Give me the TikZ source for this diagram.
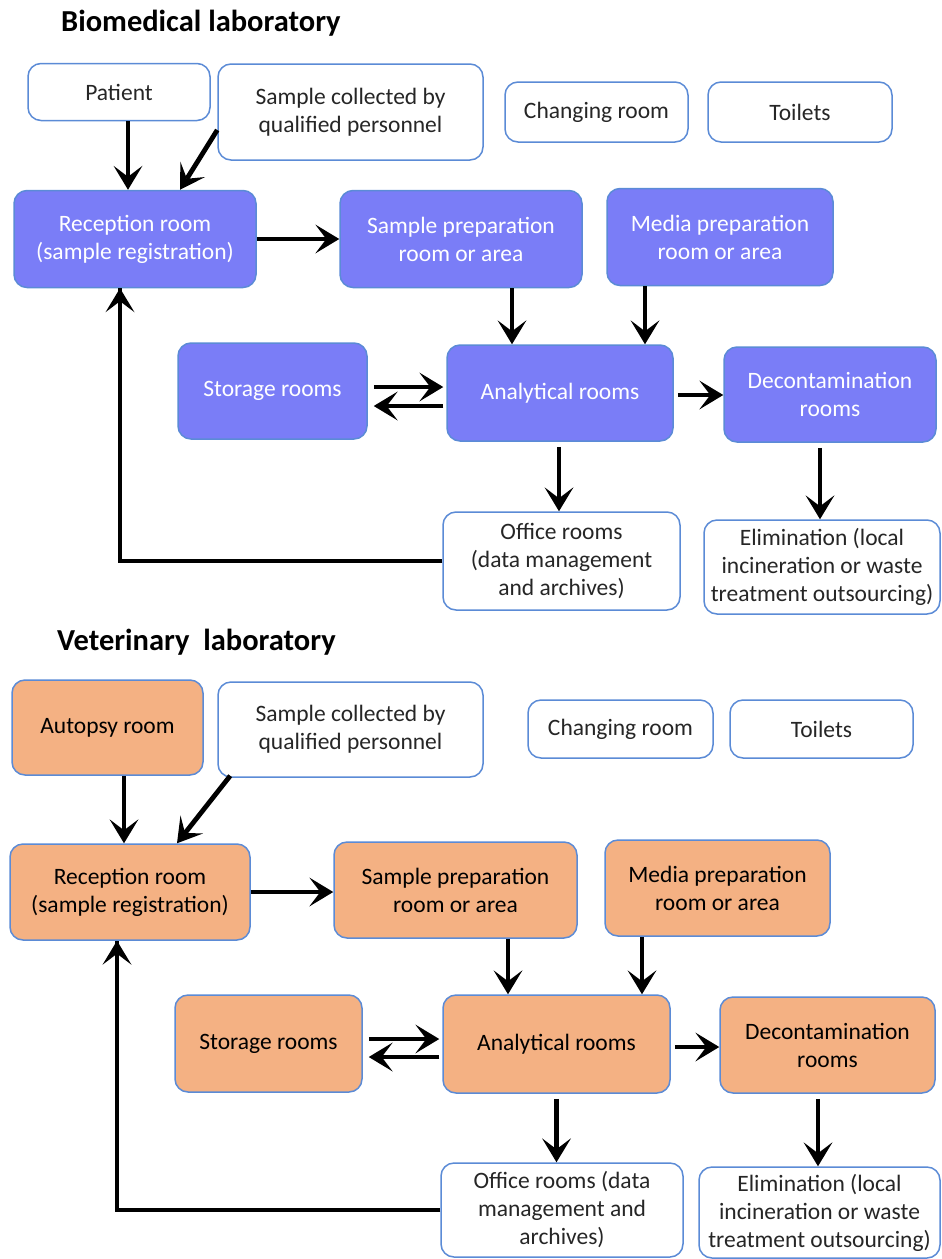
\documentclass[tikz,border=0pt]{standalone}
\usepackage{fontspec}
\setmainfont{Carlito}
\usepackage{tikz}
\usetikzlibrary{arrows.meta}
\definecolor{roomblue}{HTML}{7A7DF7}
\definecolor{roomorange}{HTML}{F4B183}
\definecolor{roomline}{HTML}{5B8BD6}
\definecolor{roomtext}{HTML}{262626}
\tikzset{
  % --- rooms ---
  room/.style={draw=roomline, line width=1.5pt, rounded corners=13pt, align=center,
               inner sep=2pt, font=\fontsize{23.5}{28}\selectfont, text=roomtext},
  roomwhite/.style={room, fill=white},
  roomlab/.style={room, fill=roomblue, text=white},
  roomvet/.style={room, fill=roomorange, text=black},
  paneltitle/.style={font=\fontsize{30.5}{34}\selectfont\bfseries, anchor=west,
                     inner sep=0pt},
  % --- flows between rooms ---
  flow/.style={line width=4.8pt,
               -{Stealth[length=24pt, width=29pt, inset=11pt, line width=0pt]}},
  flowline/.style={line width=4.8pt},
}
\begin{document}
\begin{tikzpicture}[x=1pt,y=-1pt]
  \useasboundingbox (0,0) rectangle (942,1259);
  % biomedical laboratory
  \node[paneltitle] (titlebio) at (61,23) {Biomedical laboratory};
  \node[roomwhite, minimum width=182pt, minimum height=57pt] (patient) at (119,92) {Patient};
  \node[roomwhite, minimum width=265pt, minimum height=96pt] (collect1) at (350.5,112) {Sample collected by\\qualified personnel};
  \node[roomwhite, minimum width=183pt, minimum height=60pt] (change1) at (596.5,112) {Changing room};
  \node[roomwhite, minimum width=184pt, minimum height=60pt] (toilet1) at (800,112) {Toilets};
  \node[roomlab, minimum width=242pt, minimum height=97pt] (recep1) at (135,239) {Reception room\\(sample registration)};
  \node[roomlab, minimum width=242pt, minimum height=97pt] (prep1) at (461,239) {Sample preparation\\room or area};
  \node[roomlab, minimum width=226pt, minimum height=97pt] (media1) at (720,237) {Media preparation\\room or area};
  \node[roomlab, minimum width=189pt, minimum height=96pt] (store1) at (272.5,391) {Storage rooms};
  \node[roomlab, minimum width=226pt, minimum height=96pt] (analyt1) at (560,393) {Analytical rooms};
  \node[roomlab, minimum width=212pt, minimum height=95pt] (decon1) at (830,394.5) {Decontamination\\rooms};
  \node[roomwhite, minimum width=237pt, minimum height=98pt] (office1) at (561.5,561) {Office rooms\\(data management\\and archives)};
  \node[roomwhite, minimum width=236pt, minimum height=94pt] (elim1) at (822,567) {Elimination (local\\incineration or waste\\treatment outsourcing)};

  \draw[flow] ([xshift=9pt]patient.south) -- ([xshift=-7pt]recep1.north);
  \draw[flow] ([yshift=-18pt]collect1.west) -- ([xshift=45pt]recep1.north);
  \draw[flow] (recep1.east) -- (prep1.west);
  \draw[flow] ([xshift=51pt]prep1.south) -- ([xshift=-48pt]analyt1.north);
  \draw[flow] ([xshift=-75pt]media1.south) -- ([xshift=85pt]analyt1.north);
  \draw[flow, shorten <=6pt, shorten >=3pt] ([yshift=4pt]store1.east) -- ([yshift=6pt]analyt1.west);
  \draw[flow, shorten <=3pt, shorten >=6pt] ([yshift=-13pt]analyt1.west) -- ([yshift=-15pt]store1.east);
  \draw[flow, shorten <=4pt] ([yshift=-2pt]analyt1.east) -- ([yshift=-0.5pt]decon1.west);
  \draw[flow, shorten <=5pt] ([xshift=-1pt]analyt1.south) -- ([xshift=-2.5pt]office1.north);
  \draw[flow, shorten <=5pt] ([xshift=-10pt]decon1.south) -- ([xshift=-2pt]elim1.north);
  \draw[flowline] (office1.west) -| ([xshift=-15pt]recep1.south);
  \draw[flow] ([xshift=-15pt,yshift=-40pt]recep1.south) -- ([xshift=-15pt]recep1.south);

  % veterinary laboratory
  \node[paneltitle] (titlevet) at (57,642) {Veterinary\ \ laboratory};
  \node[roomvet, minimum width=191pt, minimum height=95pt] (autopsy) at (107.5,727.5) {Autopsy room};
  \node[roomwhite, minimum width=265pt, minimum height=95pt] (collect2) at (350.5,729.5) {Sample collected by\\qualified personnel};
  \node[roomwhite, minimum width=185pt, minimum height=58pt] (change2) at (620.5,729) {Changing room};
  \node[roomwhite, minimum width=183pt, minimum height=58pt] (toilet2) at (821.5,729) {Toilets};
  \node[roomvet, minimum width=240pt, minimum height=96pt] (recep2) at (130,892) {Reception room\\(sample registration)};
  \node[roomvet, minimum width=243pt, minimum height=96pt] (prep2) at (455.5,890) {Sample preparation\\room or area};
  \node[roomvet, minimum width=225pt, minimum height=96pt] (media2) at (717.5,888) {Media preparation\\room or area};
  \node[roomvet, minimum width=187pt, minimum height=97pt] (store2) at (268.5,1043.5) {Storage rooms};
  \node[roomvet, minimum width=227pt, minimum height=98pt] (analyt2) at (556.5,1044) {Analytical rooms};
  \node[roomvet, minimum width=215pt, minimum height=96pt] (decon2) at (827.5,1045) {Decontamination\\rooms};
  \node[roomwhite, minimum width=242pt, minimum height=94pt] (office2) at (562,1210) {Office rooms (data\\management and\\archives)};
  \node[roomwhite, minimum width=241pt, minimum height=91pt] (elim2) at (819.5,1212.5) {Elimination (local\\incineration or waste\\treatment outsourcing)};

  \draw[flow] ([xshift=16.5pt]autopsy.south) -- ([xshift=-6pt]recep2.north);
  \draw[flow] ([xshift=13pt,yshift=2pt]collect2.south west) -- ([xshift=47pt]recep2.north);
  \draw[flow] (recep2.east) -- ([yshift=-2pt]prep2.west);
  \draw[flow] ([xshift=52.5pt]prep2.south) -- ([xshift=-48.5pt]analyt2.north);
  \draw[flow] ([xshift=-75.5pt]media2.south) -- ([xshift=85.5pt]analyt2.north);
  \draw[flow, shorten <=6pt, shorten >=3pt] ([yshift=4.5pt]store2.east) -- ([yshift=5pt]analyt2.west);
  \draw[flow, shorten <=3pt, shorten >=6pt] ([yshift=-13pt]analyt2.west) -- ([yshift=-13.5pt]store2.east);
  \draw[flow, shorten <=4pt] ([yshift=-3pt]analyt2.east) -- ([yshift=-2pt]decon2.west);
  \draw[flow, shorten <=5pt] (analyt2.south) -- ([xshift=-5.5pt]office2.north);
  \draw[flow, shorten <=5pt] ([xshift=-9.5pt]decon2.south) -- ([xshift=-1.5pt]elim2.north);
  \draw[flowline] (office2.west) -| ([xshift=-13pt]recep2.south);
  \draw[flow] ([xshift=-13pt,yshift=-40pt]recep2.south) -- ([xshift=-13pt]recep2.south);
\end{tikzpicture}
\end{document}
